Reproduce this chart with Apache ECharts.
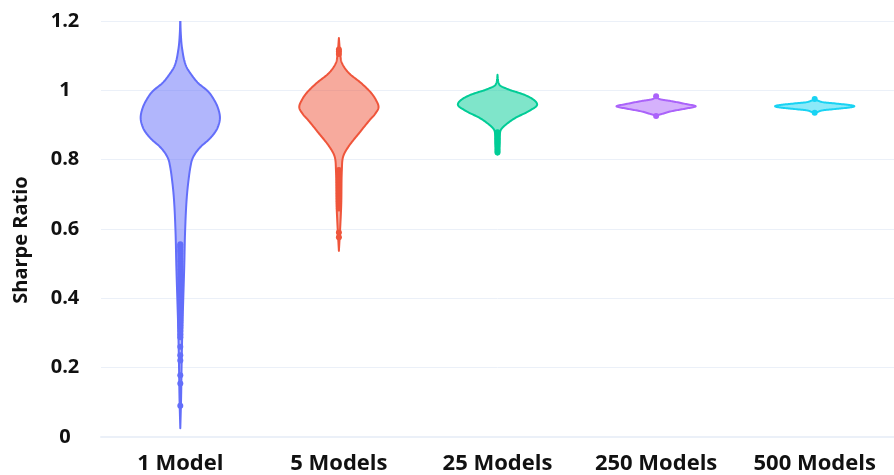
<!DOCTYPE html>
<html>
<head>
<meta charset="utf-8">
<script src="https://cdn.jsdelivr.net/npm/echarts@6/dist/echarts.min.js"></script>
<style>
  html, body { margin: 0; padding: 0; background: #ffffff; }
  #chart { width: 894px; height: 475px; }
</style>
</head>
<body>
<div id="chart"></div>
<script>
// Ensemble sizes shown along the x axis
const categories = ['1 Model', '5 Models', '25 Models', '250 Models', '500 Models'];

// Violin outlines: [Sharpe ratio, relative density (1 = widest point)]
const density1Model = [
  [1.230, 0.00], [1.165, 0.012], [1.117, 0.05], [1.069, 0.15], [1.045, 0.28],
  [1.021, 0.45], [0.997, 0.70], [0.973, 0.85], [0.949, 0.95], [0.921, 1.00],
  [0.892, 0.94], [0.878, 0.87], [0.858, 0.72], [0.839, 0.53], [0.820, 0.39],
  [0.801, 0.30], [0.782, 0.26], [0.734, 0.20], [0.686, 0.16], [0.590, 0.12],
  [0.494, 0.10], [0.399, 0.075], [0.303, 0.05], [0.207, 0.033], [0.111, 0.02],
  [0.025, 0.00]
];
const density5Models = [
  [1.151, 0.00], [1.098, 0.04], [1.079, 0.075], [1.050, 0.25], [1.021, 0.56],
  [0.993, 0.81], [0.973, 0.93], [0.952, 1.00], [0.930, 0.90], [0.916, 0.79],
  [0.878, 0.52], [0.839, 0.25], [0.810, 0.11], [0.772, 0.075], [0.676, 0.06],
  [0.609, 0.035], [0.537, 0.00]
];
const density25Models = [
  [1.045, 0.00], [1.016, 0.05], [1.002, 0.29], [0.988, 0.66], [0.973, 0.91],
  [0.959, 1.00], [0.940, 0.79], [0.921, 0.46], [0.901, 0.21], [0.887, 0.09],
  [0.873, 0.06], [0.844, 0.05], [0.815, 0.00]
];
const density250Models = [
  [0.983, 0.00], [0.976, 0.06], [0.973, 0.15], [0.9685, 0.40], [0.961, 0.73],
  [0.954, 1.00], [0.947, 0.73], [0.940, 0.40], [0.932, 0.15], [0.929, 0.06],
  [0.925, 0.00]
];
const density500Models = [
  [0.975, 0.00], [0.9704, 0.08], [0.9656, 0.22], [0.9608, 0.63], [0.957, 0.92],
  [0.9541, 1.00], [0.9512, 0.92], [0.9474, 0.63], [0.9426, 0.22], [0.9379, 0.08],
  [0.935, 0.00]
];

// Outlying Sharpe ratios drawn as points on each violin's centre line
const outliers1Model = [
  0.556, 0.552, 0.547, 0.541, 0.536, 0.529, 0.522, 0.514, 0.507, 0.499,
  0.492, 0.484, 0.476, 0.469, 0.461, 0.455, 0.447, 0.440, 0.432, 0.425,
  0.418, 0.410, 0.402, 0.396, 0.388, 0.381, 0.373, 0.366, 0.358, 0.351,
  0.344, 0.337, 0.330, 0.322, 0.315, 0.306, 0.296, 0.288, 0.260, 0.236,
  0.221, 0.178, 0.154, 0.090
];
const outliers5Models = [
  1.118, 1.112, 1.105,
  0.770, 0.764, 0.757, 0.750, 0.742, 0.735, 0.727, 0.719, 0.711, 0.703,
  0.695, 0.688, 0.680, 0.673, 0.666, 0.659, 0.590, 0.576
];
const outliers25Models = [
  0.879, 0.874, 0.868, 0.862, 0.857, 0.851, 0.846, 0.840, 0.835, 0.830,
  0.825, 0.821
];
const outliers250Models = [0.983, 0.926];
const outliers500Models = [0.975, 0.935];

// Sharpe ratio axis
const yMin = 0;
const yMax = 1.2;
const yStep = 0.2;

const colors = ['#636efa', '#ef553b', '#00cc96', '#ab63fa', '#19d3f3'];
const fills = ['rgba(99,110,250,0.5)', 'rgba(239,85,59,0.5)', 'rgba(0,204,150,0.5)',
               'rgba(171,99,250,0.5)', 'rgba(25,211,243,0.5)'];
const densities = [density1Model, density5Models, density25Models, density250Models, density500Models];
const outliers = [outliers1Model, outliers5Models, outliers25Models, outliers250Models, outliers500Models];

const FONT = '"Open Sans", "Noto Sans", sans-serif';

// Monotone cubic (Fritsch-Carlson) interpolation of the outline, sampled
// densely so the violin edges come out smooth without overshoot.
function smoothProfile(profile, steps) {
  const xs = profile.map(function (p) { return p[0]; });
  const ys = profile.map(function (p) { return p[1]; });
  const n = xs.length;
  const d = [], m = new Array(n);
  for (let i = 0; i < n - 1; i++) d.push((ys[i + 1] - ys[i]) / (xs[i + 1] - xs[i]));
  m[0] = d[0];
  m[n - 1] = d[n - 2];
  for (let i = 1; i < n - 1; i++) {
    m[i] = (d[i - 1] * d[i] <= 0) ? 0 : (d[i - 1] + d[i]) / 2;
  }
  for (let i = 0; i < n - 1; i++) {
    if (d[i] === 0) { m[i] = 0; m[i + 1] = 0; continue; }
    const a = m[i] / d[i], b = m[i + 1] / d[i];
    const s = a * a + b * b;
    if (s > 9) {
      const t = 3 / Math.sqrt(s);
      m[i] = t * a * d[i];
      m[i + 1] = t * b * d[i];
    }
  }
  const out = [];
  for (let i = 0; i < n - 1; i++) {
    const h = xs[i + 1] - xs[i];
    for (let k = 0; k < steps; k++) {
      const t = k / steps;
      const t2 = t * t, t3 = t2 * t;
      const h00 = 2 * t3 - 3 * t2 + 1, h10 = t3 - 2 * t2 + t;
      const h01 = -2 * t3 + 3 * t2, h11 = t3 - t2;
      const y = h00 * ys[i] + h10 * h * m[i] + h01 * ys[i + 1] + h11 * h * m[i + 1];
      out.push([xs[i] + t * h, Math.max(0, y)]);
    }
  }
  out.push([xs[n - 1], ys[n - 1]]);
  return out;
}

function violinRenderer(profile) {
  const fine = smoothProfile(profile, 12);
  return function (params, api) {
    const idx = api.value(0);
    const band = api.size([1, 0])[0];
    const halfMax = band * 0.25;
    const right = [];
    const left = [];
    for (let i = 0; i < fine.length; i++) {
      const p = api.coord([idx, fine[i][0]]);
      const w = fine[i][1] * halfMax;
      right.push([p[0] + w, p[1]]);
      left.push([p[0] - w, p[1]]);
    }
    const points = right.concat(left.reverse());
    return {
      type: 'polygon',
      shape: { points: points },
      style: {
        fill: fills[idx],
        stroke: colors[idx],
        lineWidth: 2,
        lineJoin: 'round'
      }
    };
  };
}

const series = [];
categories.forEach(function (name, i) {
  series.push({
    name: name,
    type: 'custom',
    clip: true,
    renderItem: violinRenderer(densities[i]),
    data: [[i]],
    encode: { x: 0 },
    silent: true,
    z: 2
  });
});
categories.forEach(function (name, i) {
  series.push({
    name: name + ' points',
    type: 'scatter',
    symbol: 'circle',
    symbolSize: 6,
    data: outliers[i].map(function (v) { return [i, v]; }),
    itemStyle: { color: colors[i], opacity: 1 },
    silent: true,
    z: 3
  });
});

const chart = echarts.init(document.getElementById('chart'), null, { renderer: 'canvas' });
chart.setOption({
  animation: false,
  backgroundColor: '#ffffff',
  grid: { left: 101, top: 21, bottom: 36.3, right: -12, containLabel: false },
  xAxis: {
    type: 'category',
    data: categories,
    boundaryGap: true,
    axisLine: { show: true, lineStyle: { color: '#ebf0f8', width: 2 } },
    axisTick: { show: false },
    splitLine: { show: false },
    axisLabel: {
      color: '#111111',
      fontFamily: FONT,
      fontWeight: 'bold',
      fontSize: 22,
      margin: 16,
      interval: 0
    }
  },
  yAxis: {
    type: 'value',
    min: yMin,
    max: yMax,
    interval: yStep,
    name: 'Sharpe Ratio',
    nameLocation: 'middle',
    nameGap: 70,
    nameRotate: 90,
    nameTextStyle: {
      color: '#111111',
      fontFamily: FONT,
      fontWeight: 'bold',
      fontSize: 20,
      padding: [0, 22, 0, 0]
    },
    axisLine: { show: false },
    axisTick: { show: false },
    splitLine: { show: true, lineStyle: { color: '#ebf0f8', width: 1 } },
    axisLabel: {
      color: '#111111',
      fontFamily: FONT,
      fontWeight: 'bold',
      fontSize: 20,
      margin: 36,
      align: 'center'
    }
  },
  series: series
});
</script>
</body>
</html>
